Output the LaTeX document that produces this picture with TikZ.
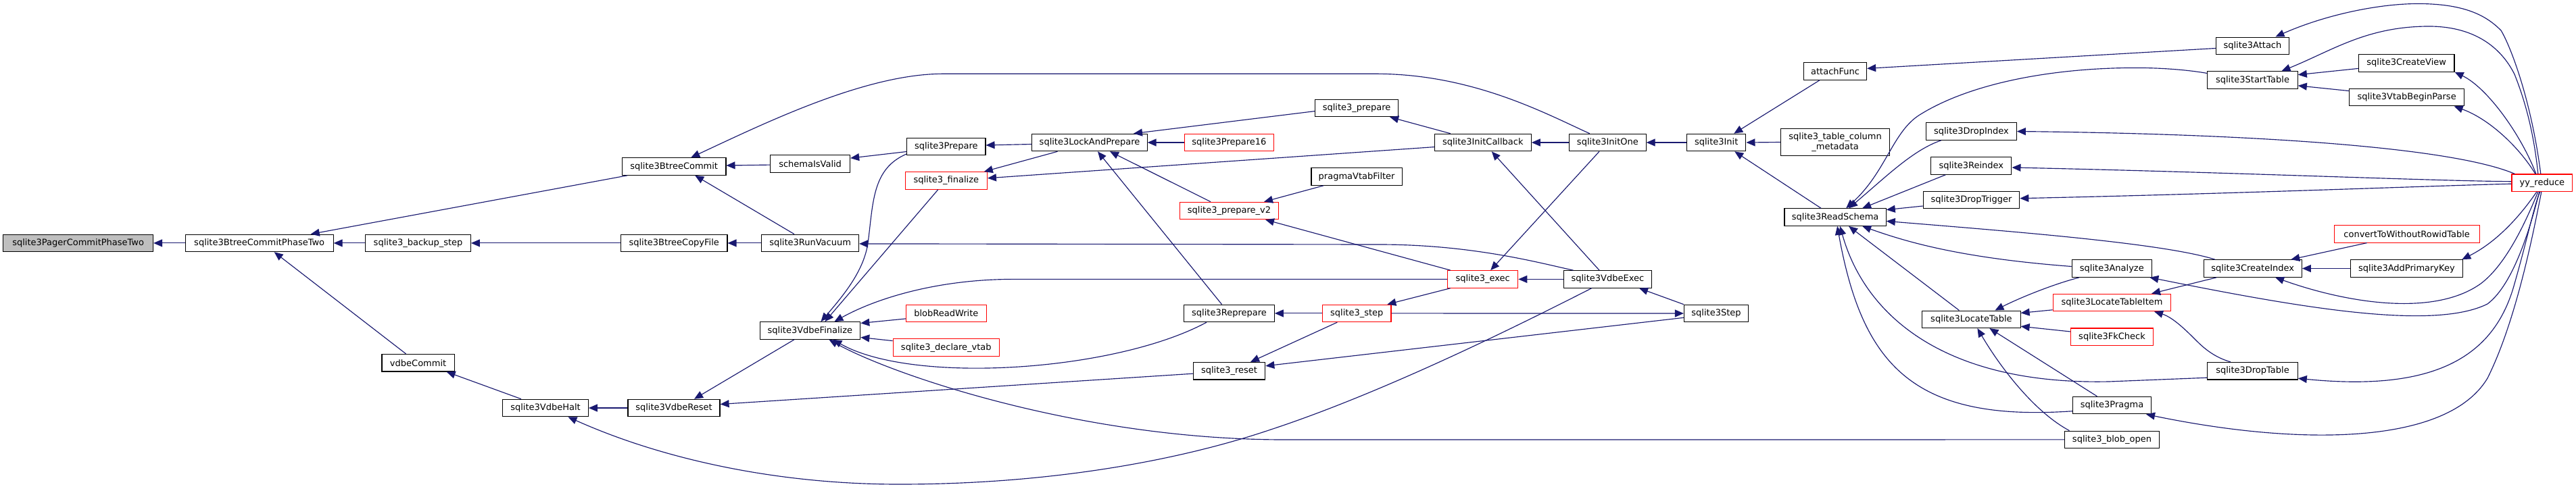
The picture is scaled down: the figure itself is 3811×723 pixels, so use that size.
\documentclass[tikz,border=0pt]{standalone}
\usepackage{fontspec}
\newfontfamily\dv{DejaVu Sans}
\usetikzlibrary{arrows.meta,calc}
\definecolor{edgec}{HTML}{191970}
\definecolor{grayfill}{HTML}{BFBFBF}
\begin{document}
\begin{tikzpicture}[x=1pt,y=-1pt,
  box/.style={draw=black, line width=1.1pt, fill=white, minimum height=25.5pt, inner sep=0pt, font=\dv\fontsize{13}{15}\selectfont, anchor=center},
  redbox/.style={box, draw=red},
  e/.style={draw=edgec, line width=1.15pt, {Triangle[length=13pt,width=11pt]}-}]
\fill[white] (0,0) rectangle (3811,723);
\useasboundingbox (0,0) rectangle (3811,723);
% nodes
\node[box, fill=grayfill, minimum width=221.6pt] (pager) at (115.7,359.9) {sqlite3PagerCommitPhaseTwo};
\node[box, minimum width=218.8pt] (btcp2) at (383.7,359.9) {sqlite3BtreeCommitPhaseTwo};
\node[box, minimum width=155.5pt] (backup) at (618.6,359.9) {sqlite3\_backup\_step};
\node[box, minimum width=107.3pt] (vcommit) at (618.6,537.2) {vdbeCommit};
\node[box, minimum width=153.5pt] (btcommit) at (997.2,246.5) {sqlite3BtreeCommit};
\node[box, minimum width=118pt] (schema) at (1198.6,242.6) {schemaIsValid};
\node[box, minimum width=157.5pt] (copyfile) at (997.2,359.9) {sqlite3BtreeCopyFile};
\node[box, minimum width=144pt] (vacuum) at (1198.6,359.9) {sqlite3RunVacuum};
\node[box, minimum width=148.6pt] (vfinal) at (1198.4,489.5) {sqlite3VdbeFinalize};
\node[box, minimum width=126.5pt] (vhalt) at (807,604) {sqlite3VdbeHalt};
\node[box, minimum width=136pt] (vreset) at (997,604) {sqlite3VdbeReset};
\node[box, minimum width=116.4pt] (prep) at (1399.8,217) {sqlite3Prepare};
\node[redbox, minimum width=121.2pt] (fin) at (1399.8,267.4) {sqlite3\_finalize};
\node[box, minimum width=170.2pt] (lap) at (1612,211) {sqlite3LockAndPrepare};
\node[redbox, minimum width=132.3pt] (prep16) at (1818.4,211) {sqlite3Prepare16};
\node[redbox, minimum width=146.5pt] (prepv2) at (1818.5,312) {sqlite3\_prepare\_v2};
\node[redbox, minimum width=118.8pt] (blobrw) at (1399.8,463.9) {blobReadWrite};
\node[redbox, minimum width=157.2pt] (declvtab) at (1399.8,514.6) {sqlite3\_declare\_vtab};
\node[box, minimum width=133.5pt] (reprep) at (1818.5,463.9) {sqlite3Reprepare};
\node[box, minimum width=106.5pt] (reset) at (1818.5,549.2) {sqlite3\_reset};
\node[box, minimum width=122.9pt] (s3prep) at (2007.1,160) {sqlite3\_prepare};
\node[box, minimum width=142.9pt] (initcb) at (2193.8,211) {sqlite3InitCallback};
\node[box, minimum width=113.5pt] (initone) at (2378.4,211) {sqlite3InitOne};
\node[box, minimum width=134.3pt] (pvf) at (2007.1,261.5) {pragmaVtabFilter};
\node[redbox, minimum width=104.1pt] (exec) at (2193.7,413.4) {sqlite3\_exec};
\node[box, minimum width=130.7pt] (vexec) at (2378.4,413.4) {sqlite3VdbeExec};
\node[redbox, minimum width=101.3pt] (s3step) at (2007.3,463.9) {sqlite3\_step};
\node[box, minimum width=95.1pt] (bigstep) at (2539,464) {sqlite3Step};
\node[box, minimum width=87.4pt] (init) at (2539.2,211) {sqlite3Init};
\node[box, minimum width=93pt] (attachf) at (2715.1,105.4) {attachFunc};
\node[box, minimum width=161.6pt, minimum height=40.2pt, align=center, font=\dv\fontsize{13}{14.5}\selectfont] (tcm) at (2715.1,210.5) {sqlite3\_table\_column\\\_metadata};
\node[box, minimum width=150.2pt] (rschema) at (2715.1,321.6) {sqlite3ReadSchema};
\node[box, minimum width=133.9pt] (dropidx) at (2916.4,194.5) {sqlite3DropIndex};
\node[box, minimum width=119.2pt] (reidx) at (2916.3,245.5) {sqlite3Reindex};
\node[box, minimum width=142.5pt] (droptrig) at (2916.5,296) {sqlite3DropTrigger};
\node[box, minimum width=145.3pt] (loctab) at (2916.4,472.8) {sqlite3LocateTable};
\node[box, minimum width=118.1pt] (analyze) at (3124.3,397.5) {sqlite3Analyze};
\node[redbox, minimum width=174.7pt] (lti) at (3124.5,448) {sqlite3LocateTableItem};
\node[redbox, minimum width=121.6pt] (fkcheck) at (3124.5,498.7) {sqlite3FkCheck};
\node[box, minimum width=115.9pt] (pragma) at (3124.5,600.1) {sqlite3Pragma};
\node[box, minimum width=140.4pt] (blobopen) at (3124.5,650.9) {sqlite3\_blob\_open};
\node[box, minimum width=108.2pt] (attach) at (3332.4,67.8) {sqlite3Attach};
\node[box, minimum width=133.5pt] (starttab) at (3332.5,118.5) {sqlite3StartTable};
\node[box, minimum width=141.6pt] (createview) at (3560.2,93.4) {sqlite3CreateView};
\node[box, minimum width=169.4pt] (vtabbp) at (3560.6,144.1) {sqlite3VtabBeginParse};
\node[redbox, minimum width=89.8pt] (yy) at (3760.8,270.7) {yy\_reduce};
\node[redbox, minimum width=215.1pt] (convert) at (3560.6,346.3) {convertToWithoutRowidTable};
\node[box, minimum width=145.3pt] (createidx) at (3332.7,397.5) {sqlite3CreateIndex};
\node[box, minimum width=166.6pt] (addpk) at (3560.4,397.5) {sqlite3AddPrimaryKey};
\node[box, minimum width=133.5pt] (droptab) at (3332.5,549.2) {sqlite3DropTable};
% edges (arrow at callee)
\draw[e] (pager.east) -- (btcp2.west);
\draw[e] (btcp2.east) -- (backup.west);
\draw[e] ($(btcp2.north)+(76,0)$) -- ($(btcommit.south)+(-69,0)$);
\draw[e] ($(btcp2.south)+(22,0)$) -- ($(vcommit.north)+(-18,0)$);
\draw[e] ($(vcommit.south)+(42,0)$) -- ($(vhalt.north)+(-36,0)$);
\draw[e] (backup.east) -- (copyfile.west);
\draw[e] (copyfile.east) -- (vacuum.west);
\draw[e] ($(btcommit.south)+(31,0)$) -- ($(vacuum.north)+(-23.6,0)$);
\draw[e] ($(btcommit.east)+(0,-1.5)$) -- ($(schema.west)+(0,1.5)$);
\draw[e] ($(btcommit.north)+(25,0)$) .. controls (1130,183) and (1280,109.3) .. (1395,109.3) -- (2035,109.3) .. controls (2180,109.3) and (2290,170) .. ($(initone.north)+(-26.6,0)$);
\draw[e] ($(schema.east)+(0,-8.5)$) -- ($(prep.west)+(0,7.5)$);
\draw[e] ($(prep.east)+(0,-2)$) -- ($(lap.west)+(0,2.5)$);
\draw[e] ($(vfinal.north)+(16,0)$) .. controls (1250,435) and (1278,400) .. (1284,360) .. controls (1292,300) and (1290,250) .. ($(prep.west)+(0,11)$);
\draw[e] ($(vfinal.north)+(22,0)$) -- ($(fin.south)+(-12,0)$);
\draw[e] ($(vfinal.north)+(36,0)$) .. controls (1290,445) and (1380,413.4) .. (1500,413.4) -- (exec.west);
\draw[e] ($(vfinal.east)+(0,-11)$) -- ($(blobrw.west)+(0,8)$);
\draw[e] ($(vfinal.east)+(0,10)$) -- ($(declvtab.west)+(0,-10)$);
\draw[e] ($(vfinal.south)+(34,0)$) .. controls (1350,570) and (1650,550) .. ($(reprep.south)+(-33.5,0)$);
\draw[e] ($(vfinal.south)+(28,0)$) .. controls (1320,555) and (1600,651) .. (1900,651) -- (blobopen.west);
\draw[e] ($(vreset.north)+(30,0)$) -- ($(vfinal.south)+(-23.4,0)$);
\draw[e] ($(vreset.east)+(0,-5.5)$) -- ($(reset.west)+(0,4)$);
\draw[e] (vhalt.east) -- (vreset.west);
\draw[e] ($(vhalt.south)+(33.4,0)$) .. controls (980,680) and (1150,717) .. (1330,717) .. controls (1560,717) and (1750,680) .. (1880,636) .. controls (2050,580) and (2250,480) .. ($(vexec.south)+(-23.7,0)$);
\draw[e] ($(fin.north)+(56,0)$) -- ($(lap.south)+(-47.5,0)$);
\draw[e] ($(fin.east)+(0,-3.6)$) -- ($(initcb.west)+(0,6.6)$);
\draw[e] (lap.east) -- (prep16.west);
\draw[e] ($(lap.north)+(65,0)$) -- ($(s3prep.west)+(0,4.6)$);
\draw[e] ($(lap.south)+(30,0)$) -- ($(prepv2.north)+(-27.5,0)$);
\draw[e] ($(lap.south)+(12,0)$) -- ($(reprep.north)+(-11,0)$);
\draw[e] ($(prepv2.north)+(51.5,0)$) -- ($(pvf.south)+(-49,0)$);
\draw[e] ($(prepv2.south)+(53.5,0)$) -- ($(exec.north)+(-48,0)$);
\draw[e] ($(s3prep.south)+(49,0)$) -- ($(initcb.north)+(-48,0)$);
\draw[e] (initcb.east) -- (initone.west);
\draw[e] ($(initcb.south)+(13,0)$) -- ($(vexec.north)+(-12.4,0)$);
\draw[e] (initone.east) -- (init.west);
\draw[e] ($(exec.north)+(11.5,0)$) -- ($(initone.south)+(-12.4,0)$);
\draw[e] (exec.east) -- (vexec.west);
\draw[e] ($(vacuum.east)+(0,1)$) -- (2040,362) .. controls (2180,362) and (2280,390) .. ($(vexec.north)+(-51,0)$);
\draw[e] (reprep.east) -- (s3step.west);
\draw[e] ($(s3step.north)+(45,0)$) -- ($(exec.south)+(-48,0)$);
\draw[e] ($(reset.north)+(31.5,0)$) -- ($(s3step.south)+(-29,0)$);
\draw[e] ($(reset.east)+(0,-7.4)$) -- ($(bigstep.west)+(0,6.3)$);
\draw[e] (bigstep.west) -- (s3step.east);
\draw[e] ($(vexec.south)+(46.6,0)$) -- (bigstep.north west);
\draw[e] ($(init.north)+(26,0)$) -- ($(attachf.south)+(-23,0)$);
\draw[e] (init.east) -- (tcm.west);
\draw[e] ($(init.south)+(27,0)$) -- ($(rschema.north)+(-21,0)$);
\draw[e] ($(attachf.east)+(0,-4)$) -- ($(attach.west)+(0,3.7)$);
\draw[e] ($(rschema.north)+(16,0)$) .. controls (2790,255) and (2800,195) .. (2840,170) .. controls (2920,120) and (3050,99) .. (3171,100.5) .. controls (3205,101) and (3240,104) .. ($(starttab.west)+(0,-10)$);
\draw[e] ($(rschema.north)+(20,0)$) .. controls (2790,262) and (2830,222) .. ($(dropidx.south)+(-44.5,0)$);
\draw[e] ($(rschema.north)+(40,0)$) -- ($(reidx.south)+(-38,0)$);
\draw[e] ($(rschema.east)+(0,-11)$) -- ($(droptrig.west)+(0,9)$);
\draw[e] ($(rschema.east)+(0,5.8)$) .. controls (2980,343) and (3200,360) .. ($(createidx.north)+(-55.7,0)$);
\draw[e] ($(rschema.south)+(40,0)$) .. controls (2820,358) and (2900,382) .. ($(analyze.west)+(0,-3)$);
\draw[e] ($(rschema.south)+(20,0)$) -- ($(loctab.north)+(-18,0)$);
\draw[e] ($(rschema.south)+(7,0)$) .. controls (2760,470) and (2880,570) .. (3120,565) -- ($(droptab.west)+(0,10)$);
\draw[e] ($(rschema.south)+(3,0)$) .. controls (2755,540) and (2830,625) .. ($(pragma.west)+(0,8.6)$);
\draw[e] ($(loctab.north)+(35,0)$) .. controls (2990,440) and (3040,420) .. ($(analyze.south)+(-48,0)$);
\draw[e] ($(loctab.east)+(0,-9.4)$) -- ($(lti.west)+(0,10.8)$);
\draw[e] ($(loctab.east)+(0,10.4)$) -- ($(fkcheck.west)+(0,-7.7)$);
\draw[e] ($(loctab.south)+(27,0)$) -- ($(pragma.north)+(-22,0)$);
\draw[e] ($(loctab.south)+(9,0)$) .. controls (2960,545) and (3010,610) .. ($(blobopen.north)+(-63,0)$);
\draw[e] ($(starttab.east)+(0,-7.8)$) -- ($(createview.west)+(0,8)$);
\draw[e] ($(starttab.east)+(0,8.3)$) -- ($(vtabbp.west)+(0,-9.5)$);
\draw[e] ($(attach.north)+(34,0)$) .. controls (3440,22) and (3520,5) .. (3580,5.5) .. controls (3650,6) and (3680,25) .. (3700,45) .. controls (3715,70) and (3745,150) .. ($(yy.north)+(-2,0)$);
\draw[e] ($(starttab.north)+(43,0)$) .. controls (3450,75) and (3500,40) .. (3590,39) .. controls (3660,38) and (3700,70) .. (3720,110) .. controls (3740,160) and (3750,210) .. ($(yy.north)+(-6,0)$);
\draw[e] (createview.south east) .. controls (3680,130) and (3730,200) .. ($(yy.north)+(-9,0)$);
\draw[e] ($(vtabbp.south)+(70,0)$) .. controls (3680,175) and (3725,215) .. ($(yy.north)+(-10,0)$);
\draw[e] (dropidx.east) .. controls (3300,198) and (3620,215) .. ($(yy.north west)+(5,0)$);
\draw[e] ($(reidx.east)+(0,2.5)$) .. controls (3300,255) and (3600,268) .. ($(yy.west)+(0,-2)$);
\draw[e] ($(droptrig.east)+(0,-2.3)$) .. controls (3300,287) and (3600,275) .. ($(yy.west)+(0,1.5)$);
\draw[e] (createidx.east) -- (addpk.west);
\draw[e] ($(createidx.north)+(56.5,0)$) -- ($(convert.south)+(-59,0)$);
\draw[e] ($(createidx.south)+(33.3,0)$) .. controls (3470,448) and (3600,470) .. (3670,420) .. controls (3710,390) and (3740,320) .. ($(yy.south)+(-6,0)$);
\draw[e] ($(addpk.north east)+(-2,0)$) .. controls (3700,355) and (3735,310) .. ($(yy.south)+(-8,0)$);
\draw[e] ($(lti.north)+(58.5,0)$) -- ($(createidx.south)+(-53.5,0)$);
\draw[e] ($(analyze.south)+(56,0)$) .. controls (3400,455) and (3600,490) .. (3680,450) .. controls (3720,420) and (3745,330) .. ($(yy.south)+(-4,0)$);
\draw[e] ($(lti.south)+(62.5,0)$) .. controls (3215,470) and (3235,490) .. (3250,505) .. controls (3265,520) and (3280,530) .. ($(droptab.north)+(-32.5,0)$);
\draw[e] ($(droptab.east)+(0,11)$) .. controls (3600,580) and (3690,530) .. (3720,420) .. controls (3740,350) and (3750,300) .. ($(yy.south)+(-3,0)$);
\draw[e] ($(pragma.south east)+(-8,0)$) .. controls (3400,660) and (3620,660) .. (3680,560) .. controls (3720,480) and (3745,360) .. ($(yy.south)+(-1,0)$);
\end{tikzpicture}
\end{document}
